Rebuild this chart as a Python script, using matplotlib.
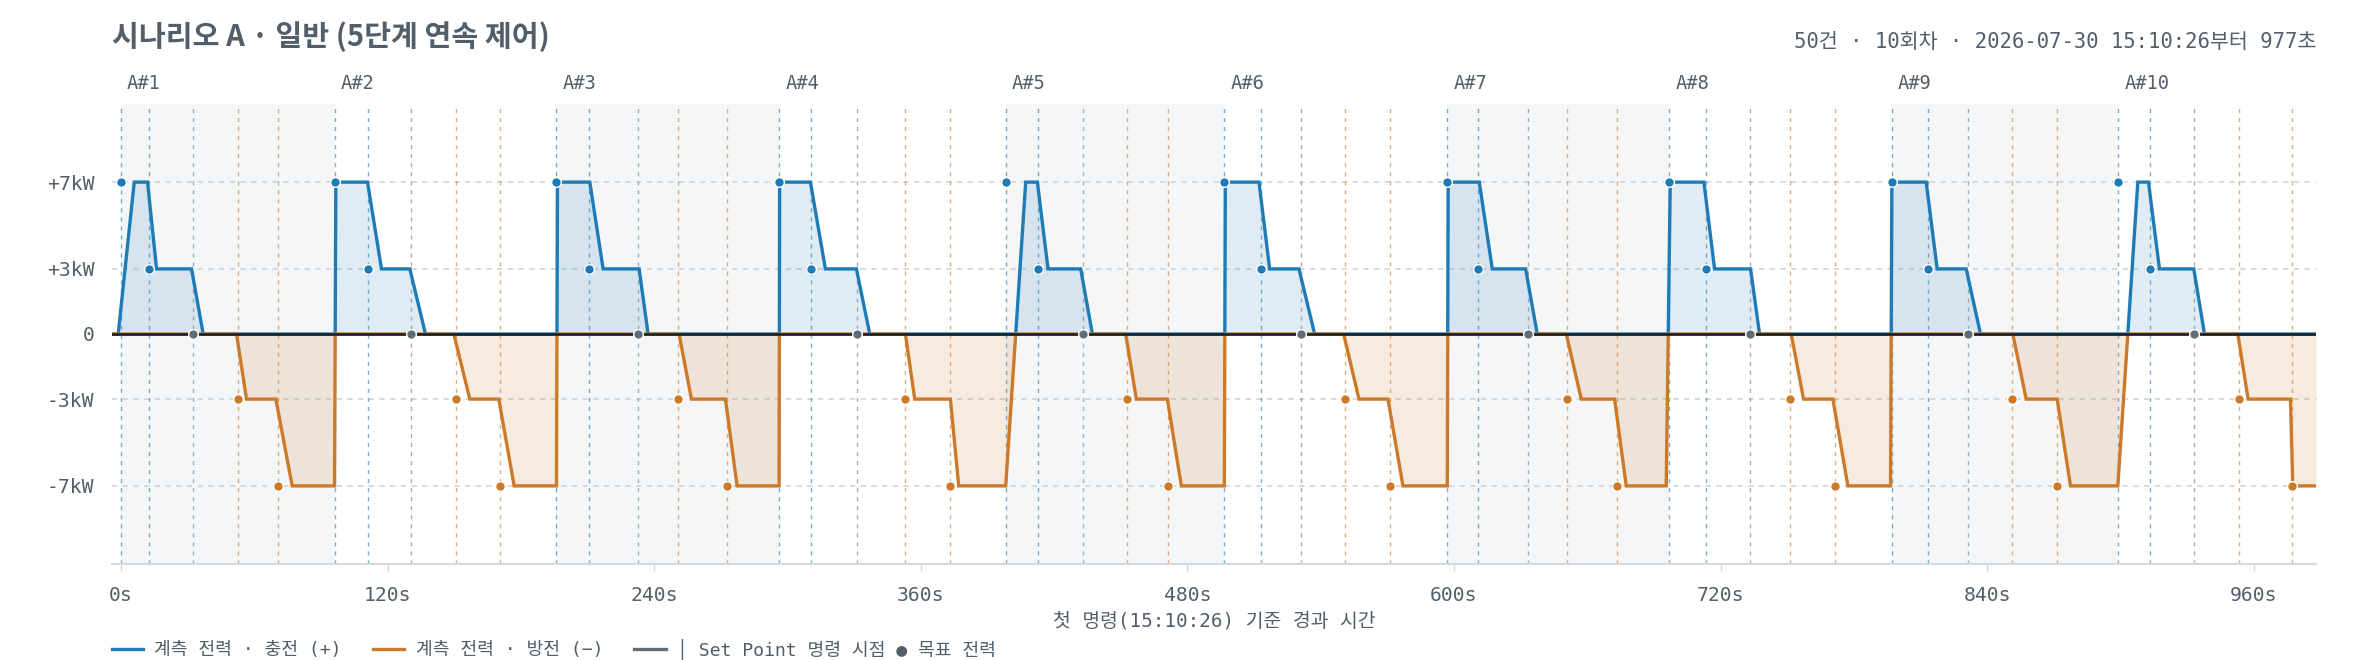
"""Scenario A: measured power vs 5-step set point commands."""
import numpy as np
import matplotlib
matplotlib.use("Agg")
import matplotlib.pyplot as plt
from matplotlib.lines import Line2D

MONO = ['DejaVu Sans Mono', 'Noto Sans CJK KR']
plt.rcParams['font.family'] = MONO

color_chg = "#1f7bb6"
color_dis = "#cc7a29"
color_sp = "#5f6e79"
color_text = "#525f6a"
color_band = "#f4f6f8"
color_grid = "#c8d1d8"
color_spine = "#d3dbe1"

W, H = 2360, 660

# set point commands (seconds after the first command), 5 steps per cycle
cycle_labels = ["A#1", "A#2", "A#3", "A#4", "A#5",
                "A#6", "A#7", "A#8", "A#9", "A#10"]
step_targets = [7, 3, 0, -3, -7]
cmd_times = [
    [0.0, 12.6, 32.5, 52.65, 70.65],
    [96.15, 111.0, 130.65, 150.75, 170.55],
    [196.05, 210.75, 232.8, 250.8, 272.85],
    [296.25, 310.8, 331.35, 352.8, 373.05],
    [398.25, 412.95, 432.9, 453.0, 471.15],
    [496.65, 513.0, 531.15, 550.95, 571.05],
    [596.85, 610.95, 633.3, 651.0, 673.2],
    [696.75, 713.25, 733.2, 751.2, 771.3],
    [796.95, 813.3, 831.3, 851.25, 871.35],
    [899.1, 913.35, 933.3, 953.55, 977.25],
]

# measured power (kW)
meas_t = [-4.0, -1.2, 6.0, 12.0, 16.05, 31.8, 37.05, 52.05, 56.55, 69.75, 77.1, 96.15, 96.75,
          111.0, 117.3, 130.05, 137.1, 149.85, 157.05, 170.1, 177.0, 196.05, 196.5,
          211.05, 217.05, 233.25, 237.3, 251.25, 256.8, 272.1, 277.35, 296.25, 296.5,
          310.35, 317.1, 331.05, 337.05, 353.1, 357.3, 373.35, 377.1, 398.25, 407.25,
          412.5, 417.3, 432.0, 437.25, 452.25, 457.05, 471.0, 477.3, 496.65, 497.1,
          512.25, 517.05, 530.25, 537.3, 550.35, 557.25, 570.3, 577.05, 597.0, 597.4,
          611.4, 617.25, 632.25, 637.5, 650.55, 657.3, 672.3, 677.55, 695.55, 697.35,
          712.5, 717.3, 733.5, 737.55, 751.8, 757.35, 770.55, 777.3, 796.5, 797.1,
          812.55, 817.5, 830.55, 837.0, 851.55, 857.55, 871.5, 877.5, 898.8, 907.8,
          912.6, 917.55, 933.0, 937.8, 952.8, 957.45, 976.5, 977.55, 988.0]
meas_p = [0, 0, 7, 7, 3, 3, 0, 0, -3, -3, -7, -7, 7,
          7, 3, 3, 0, 0, -3, -3, -7, -7, 7,
          7, 3, 3, 0, 0, -3, -3, -7, -7, 7,
          7, 3, 3, 0, 0, -3, -3, -7, -7, 7,
          7, 3, 3, 0, 0, -3, -3, -7, -7, 7,
          7, 3, 3, 0, 0, -3, -3, -7, -7, 7,
          7, 3, 3, 0, 0, -3, -3, -7, -7, 7,
          7, 3, 3, 0, 0, -3, -3, -7, -7, 7,
          7, 3, 3, 0, 0, -3, -3, -7, -7, 7,
          7, 3, 3, 0, 0, -3, -3, -7, -7]

ytick_vals = [7, 3, 0, -3, -7]
ytick_labels = ["+7kW", "+3kW", "0", "-3kW", "-7kW"]
xtick_vals = [0, 120, 240, 360, 480, 600, 720, 840, 960]
xtick_labels = ["0s", "120s", "240s", "360s", "480s", "600s", "720s", "840s", "960s"]

title = "시나리오 A · 일반 (5단계 연속 제어)"
subtitle = "50건 · 10회차 · 2026-07-30 15:10:26부터 977초"
xlabel = "첫 명령(15:10:26) 기준 경과 시간"

# split the trace at zero so charge / discharge get their own colour
t = np.array(meas_t, dtype=float)
p = np.array(meas_p, dtype=float)
tt, pp = [t[0]], [p[0]]
for i in range(1, len(t)):
    if p[i - 1] * p[i] < 0:
        tz = t[i - 1] - p[i - 1] * (t[i] - t[i - 1]) / (p[i] - p[i - 1])
        tt.append(tz)
        pp.append(0.0)
    tt.append(t[i])
    pp.append(p[i])
tt = np.array(tt)
pp = np.array(pp)
pos = np.clip(pp, 0, None)
neg = np.clip(pp, None, 0)

fig = plt.figure(figsize=(W / 100, H / 100), dpi=100)
ax = fig.add_axes([112 / W, 1 - 564 / H, (2316 - 112) / W, 460 / H])

starts = [c[0] for c in cmd_times]
for i in range(0, len(starts) - 1, 2):
    ax.axvspan(starts[i], starts[i + 1], color=color_band, lw=0, zorder=0)


def step_color(v):
    if v > 0:
        return color_chg, 0.6
    if v < 0:
        return color_dis, 0.6
    return "#8e979e", 0.75


for cyc in cmd_times:
    for tc, v in zip(cyc, step_targets):
        c, a = step_color(v)
        ax.axvline(tc, color=c, alpha=a, lw=1.0, linestyle=(0, (3, 3.5)), zorder=1)

ax.fill_between(tt, 0, pos, color=color_chg, alpha=0.14, lw=0, zorder=2)
ax.fill_between(tt, neg, 0, color=color_dis, alpha=0.15, lw=0, zorder=2)
ax.plot(tt, pos, color=color_chg, lw=2.4, zorder=3, solid_joinstyle='miter')
ax.plot(tt, neg, color=color_dis, lw=2.4, zorder=3, solid_joinstyle='miter')
ax.axhline(0, color="#1a2026", lw=1.9, zorder=4)

for k, v in enumerate(step_targets):
    c = color_chg if v > 0 else (color_dis if v < 0 else color_sp)
    ax.plot([cyc[k] for cyc in cmd_times], [v] * len(cmd_times), 'o', ms=7.0,
            color=c, mec='white', mew=1.0, zorder=5, clip_on=False)

for lab, s in zip(cycle_labels, starts):
    ax.annotate(lab, xy=(s, 1), xycoords=('data', 'axes fraction'),
                xytext=(4.5, 14.8), textcoords='offset points',
                ha='left', va='center', fontsize=13.5, color=color_text)

ax.set_xlim(-4, 988)
ax.set_ylim(-10.6, 10.6)
ax.set_yticks(ytick_vals)
ax.set_yticklabels(ytick_labels)
ax.set_xticks(xtick_vals)
ax.set_xticklabels(xtick_labels)
ax.tick_params(axis='y', length=0, pad=12.7, labelsize=14.2, labelcolor=color_text)
ax.tick_params(axis='x', length=5, width=1.0, color=color_spine, pad=11,
               labelsize=14.2, labelcolor=color_text)
ax.yaxis.grid(True, color=color_grid, lw=1.1, linestyle=(0, (3.5, 3.5)))
ax.set_axisbelow(True)
for side in ['left', 'right', 'top']:
    ax.spines[side].set_visible(False)
ax.spines['bottom'].set_color(color_spine)
ax.spines['bottom'].set_linewidth(1.5)

ax.set_xlabel(xlabel, fontsize=13.9, color=color_text)
ax.xaxis.set_label_coords(0.5, (564 - 621) / 460)
ax.xaxis.label.set_va('center')

fig.text(112 / W, 1 - 46 / H, title, fontsize=21, weight='bold',
         family=['Noto Sans CJK KR', 'DejaVu Sans'], color=color_text, va='baseline')
fig.text(2316 / W, 1 - 48 / H, subtitle, fontsize=14.9, color=color_text,
         ha='right', va='baseline')

handles = [Line2D([], [], color=color_chg, lw=2.4),
           Line2D([], [], color=color_dis, lw=2.4),
           Line2D([], [], color=color_sp, lw=2.4)]
labels = ["계측 전력 · 충전 (+)", "계측 전력 · 방전 (−)", "│ Set Point 명령 시점 ● 목표 전력"]
fig.legend(handles, labels, loc='center left', bbox_to_anchor=(112 / W, 1 - 649 / H),
           ncol=3, frameon=False, fontsize=13.1, handlelength=1.72, handletextpad=0.61,
           columnspacing=1.72, borderpad=0, borderaxespad=0, labelcolor=color_text)

fig.savefig("out.png", dpi=100)
